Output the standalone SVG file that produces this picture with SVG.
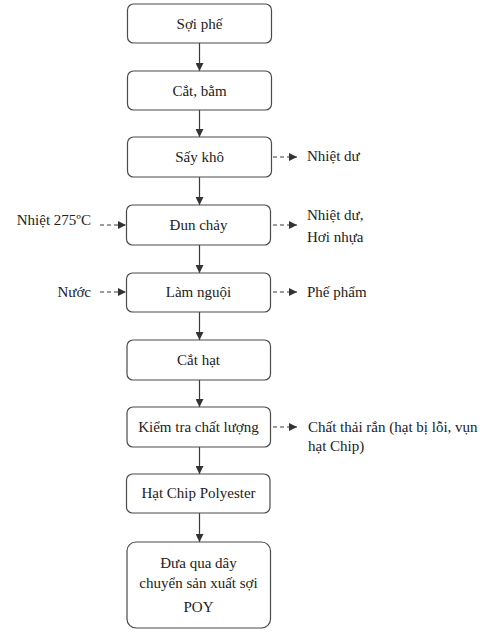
<svg xmlns="http://www.w3.org/2000/svg" width="485" height="635" viewBox="0 0 485 635" font-family="'Liberation Serif', 'DejaVu Serif', serif" font-size="15">
<defs>
<style>
.box{fill:#fff;stroke:#4a4a4a;stroke-width:1.2}
text{font-family:'Liberation Serif','DejaVu Serif',serif;font-size:15px;fill:#222}
.c{text-anchor:middle}
.e{text-anchor:end}
.solid{stroke:#3a3a3a;stroke-width:1.2;fill:none}
.dash{stroke:#3a3a3a;stroke-width:1.2;fill:none;stroke-dasharray:4 3}
</style>
<marker id="ah" viewBox="0 0 10 10" refX="10" refY="5" markerWidth="8" markerHeight="8" markerUnits="userSpaceOnUse" orient="auto">
<path d="M0,0 L10,5 L0,10 Z" fill="#333"/>
</marker>
</defs>
<rect width="485" height="635" fill="#fff"/>
<g id="connectors">
<line class="solid" x1="199.5" y1="43" x2="199.5" y2="71" marker-end="url(#ah)"/>
<line class="solid" x1="199.5" y1="110" x2="199.5" y2="137" marker-end="url(#ah)"/>
<line class="solid" x1="199.5" y1="177" x2="199.5" y2="205" marker-end="url(#ah)"/>
<line class="solid" x1="199.5" y1="245" x2="199.5" y2="273" marker-end="url(#ah)"/>
<line class="solid" x1="199.5" y1="312" x2="199.5" y2="340" marker-end="url(#ah)"/>
<line class="solid" x1="199.5" y1="380" x2="199.5" y2="407" marker-end="url(#ah)"/>
<line class="solid" x1="199.5" y1="447" x2="199.5" y2="474" marker-end="url(#ah)"/>
<line class="solid" x1="199.5" y1="513" x2="199.5" y2="542" marker-end="url(#ah)"/>
<line class="dash" x1="273" y1="157" x2="297" y2="157" marker-end="url(#ah)"/>
<line class="dash" x1="273" y1="225" x2="297" y2="225" marker-end="url(#ah)"/>
<line class="dash" x1="273" y1="292" x2="297" y2="292" marker-end="url(#ah)"/>
<line class="dash" x1="273" y1="427" x2="297" y2="427" marker-end="url(#ah)"/>
<line class="dash" x1="100" y1="225" x2="126" y2="225" marker-end="url(#ah)"/>
<line class="dash" x1="100" y1="292" x2="126" y2="292" marker-end="url(#ah)"/>
</g>
<g id="n1"><rect class="box" x="127.5" y="4" width="144" height="39" rx="6"/><text class="c" x="199.5" y="28.5">Sợi phế</text></g>
<g id="n2"><rect class="box" x="127.5" y="71" width="144" height="39" rx="6"/><text class="c" x="199.5" y="95.5">Cắt, bằm</text></g>
<g id="n3"><rect class="box" x="127.5" y="137" width="144" height="40" rx="6"/><text class="c" x="199.5" y="161.5">Sấy khô</text></g>
<g id="n4"><rect class="box" x="126.5" y="205" width="144" height="40" rx="6"/><text class="c" x="198.5" y="229.5">Đun chảy</text></g>
<g id="n5"><rect class="box" x="126.5" y="273" width="144" height="39" rx="6"/><text class="c" x="198.5" y="296.5">Làm nguội</text></g>
<g id="n6"><rect class="box" x="127" y="340" width="143.5" height="40" rx="6"/><text class="c" x="198.5" y="364.5">Cắt hạt</text></g>
<g id="n7"><rect class="box" x="127" y="407" width="143.5" height="40" rx="6"/><text class="c" x="198.5" y="431.5">Kiểm tra chất lượng</text></g>
<g id="n8"><rect class="box" x="126.5" y="474" width="143.5" height="39" rx="6"/><text class="c" x="198.5" y="498">Hạt Chip Polyester</text></g>
<g id="n9"><rect class="box" x="127" y="542" width="143.5" height="86" rx="9"/><text class="c" x="198.5" y="568">Đưa qua dây</text><text class="c" x="198.5" y="588">chuyển sản xuất sợi</text><text class="c" x="198.5" y="612">POY</text></g>
<g id="labels">
<text x="307" y="161">Nhiệt dư</text>
<text x="307" y="220">Nhiệt dư,</text>
<text x="307" y="242">Hơi nhựa</text>
<text x="307" y="297">Phế phẩm</text>
<text x="308" y="432">Chất thải rắn (hạt bị lỗi, vụn</text>
<text x="308" y="451">hạt Chip)</text>
<text class="e" x="91" y="225">Nhiệt 275ºC</text>
<text class="e" x="91" y="297">Nước</text>
</g>
</svg>
